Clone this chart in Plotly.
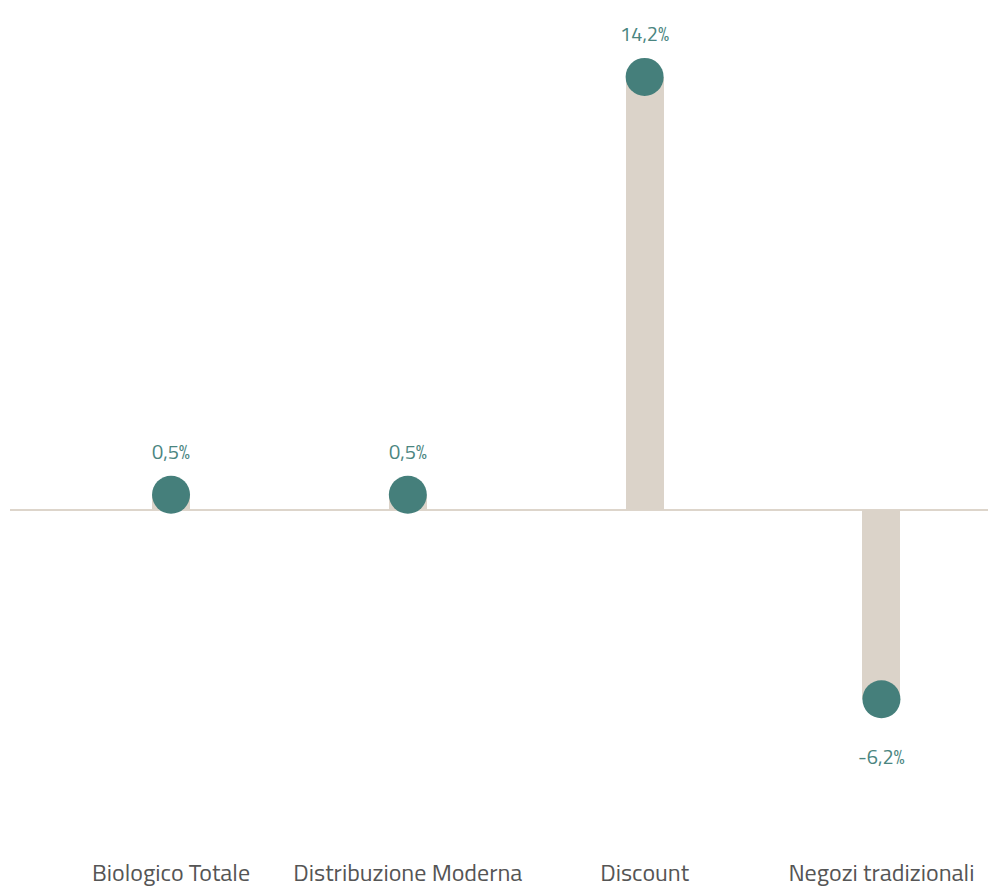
import plotly.graph_objects as go

categories = ["Biologico Totale", "Distribuzione Moderna", "Discount", "Negozi tradizionali"]
values = [0.5, 0.5, 14.2, -6.2]
labels = ["0,5%", "0,5%", "14,2%", "-6,2%"]

BAR = "#dbd3c9"
DOT = "#457f7b"
TXT = "#4a8580"
FONT = "Titillium Web, Roboto, sans-serif"

fig = go.Figure()
fig.add_trace(go.Bar(x=categories, y=values, width=0.16, marker=dict(color=BAR, line=dict(width=0)),
                     hoverinfo="skip", showlegend=False))
fig.add_trace(go.Scatter(x=categories, y=values, mode="markers",
                         marker=dict(size=38, color=DOT, line=dict(width=0)), showlegend=False))

for c, v, t in zip(categories, values, labels):
    fig.add_annotation(x=c, y=v, text=t, showarrow=False,
                       yshift=43 if v >= 0 else -57,
                       font=dict(family=FONT, size=20, color=TXT))

fig.update_layout(
    width=988, height=892,
    margin=dict(l=10, r=0, t=0, b=36),
    paper_bgcolor="white", plot_bgcolor="white",
    font=dict(family=FONT),
    xaxis=dict(type="category", range=[-0.68, 3.45], showgrid=False, zeroline=False,
               showline=False, ticks="", automargin=False,
               tickfont=dict(size=24, color="#555555")),
    yaxis=dict(range=[-11.34, 16.72], showgrid=False, showticklabels=False, automargin=False,
               zeroline=True, zerolinecolor="#ddd5cb", zerolinewidth=2, showline=False),
    bargap=0,
)

fig.write_html("out.html", config={"displayModeBar": False},
               post_script="document.body.style.margin='0';document.body.style.overflow='hidden';")
